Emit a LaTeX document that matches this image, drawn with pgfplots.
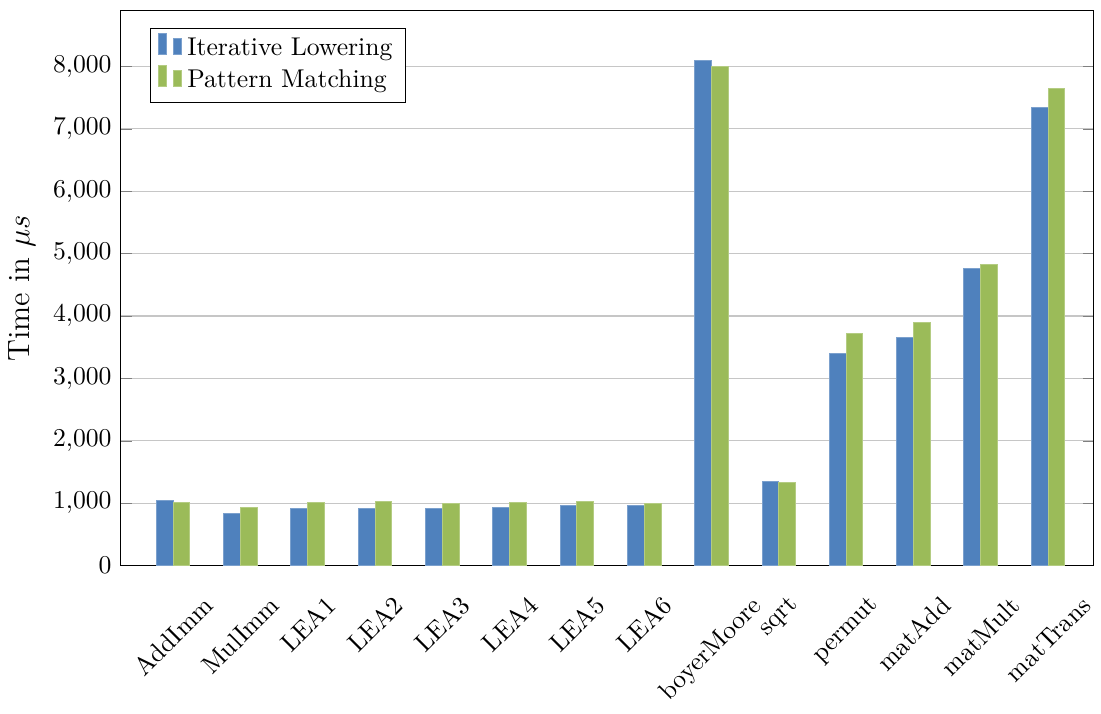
\documentclass[border=0pt]{standalone}
\usepackage{graphicx}
\usepackage{pgfplots}
\pgfplotsset{compat=1.18}
\definecolor{cblue}{HTML}{4F81BD}
\definecolor{cgreen}{HTML}{9BBB59}
\newcommand{\rl}[1]{\rotatebox{45}{#1}}
\begin{document}
\begin{tikzpicture}
\begin{axis}[
  scale only axis,
  width=379pt, height=216pt,
  ybar=0pt,
  bar width=0.25,
  xmin=-0.78, xmax=13.68,
  ymin=0, ymax=8890,
  xtick={0,...,13},
  xticklabels={\rl{AddImm},\rl{MulImm},\rl{LEA1},\rl{LEA2},\rl{LEA3},\rl{LEA4},\rl{LEA5},\rl{LEA6},\rl{boyerMoore},\rl{sqrt},\rl{permut},\rl{matAdd},\rl{matMult},\rl{matTrans}},
  x tick label style={anchor=north, yshift=-3.5pt},
  xtick style={draw=none},
  ytick={0,1000,...,8000},
  ymajorgrids,
  grid style={gray!45, line width=0.5pt},
  ylabel={Time in $\mu s$},
  ylabel style={font=\large},
  legend pos=north west,
  legend style={draw=black, font=\normalsize},
  legend cell align=left,
]
\addplot[fill=cblue, draw=cblue!75!white] coordinates {
(0,1042) (1,841) (2,910) (3,910) (4,921) (5,926) (6,963) (7,958)
(8,8090) (9,1342) (10,3405) (11,3658) (12,4760) (13,7339)};
\addplot[fill=cgreen, draw=cgreen!75!white] coordinates {
(0,1005) (1,937) (2,1016) (3,1026) (4,1000) (5,1016) (6,1032) (7,1000)
(8,8000) (9,1332) (10,3721) (11,3900) (12,4830) (13,7651)};
\legend{Iterative Lowering, Pattern Matching}
\end{axis}
\end{tikzpicture}
\end{document}
